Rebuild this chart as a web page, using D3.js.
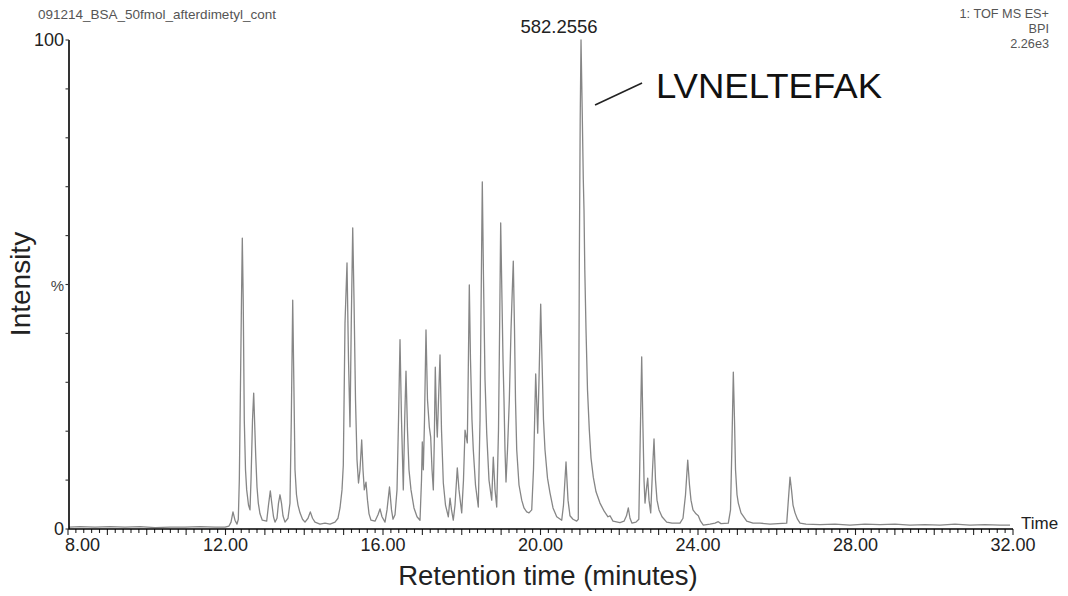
<!DOCTYPE html>
<html>
<head>
<meta charset="utf-8">
<script src="https://cdn.jsdelivr.net/npm/d3@7"></script>
<style>
  html, body { margin: 0; padding: 0; background: #fff; }
  svg { display: block; font-family: "Liberation Sans", Arial, sans-serif; }
</style>
</head>
<body>
<svg id="chart" width="1068" height="596"></svg>
<script>
// ---- Data: [retention time (min), relative intensity (%)] ----
const chromatogram = [
  [8.025,0.4],[8.305,0.5],[8.686,0.4],[9.067,0.5],[9.448,0.4],[9.829,0.5],[10.210,0.3],
  [10.590,0.4],[10.971,0.4],[11.352,0.5],[11.733,0.4],[11.987,0.4],[12.089,0.6],[12.140,1.4],
  [12.190,3.5],[12.241,1.8],[12.292,1.0],[12.325,2.0],[12.351,10.0],[12.376,26.4],[12.406,46.8],
  [12.427,59.5],[12.450,46.8],[12.477,22.3],[12.508,12.1],[12.538,8.0],[12.584,4.9],[12.622,3.9],
  [12.648,10.0],[12.686,22.3],[12.716,27.8],[12.742,21.3],[12.767,15.1],[12.800,8.6],[12.833,5.3],
  [12.876,3.1],[12.935,1.8],[13.046,1.6],[13.092,4.9],[13.138,7.8],[13.181,4.9],[13.219,2.5],
  [13.257,1.4],[13.308,2.2],[13.346,5.3],[13.384,7.0],[13.422,5.3],[13.460,2.7],[13.511,1.4],
  [13.587,2.2],[13.638,5.3],[13.671,22.3],[13.707,46.8],[13.735,30.5],[13.765,12.1],[13.803,7.0],
  [13.841,4.9],[13.892,3.3],[13.956,2.0],[14.019,1.4],[14.095,2.2],[14.154,3.5],[14.210,2.2],
  [14.273,1.4],[14.400,1.0],[14.527,1.2],[14.654,1.0],[14.781,1.4],[14.857,2.2],[14.908,4.3],
  [14.959,8.0],[14.992,13.1],[15.035,42.1],[15.086,54.4],[15.124,34.6],[15.162,20.9],[15.195,42.7],
  [15.231,61.6],[15.264,46.8],[15.302,26.4],[15.340,14.1],[15.378,9.4],[15.416,12.1],[15.459,18.2],
  [15.492,12.1],[15.525,8.0],[15.568,9.6],[15.606,5.9],[15.645,3.1],[15.695,1.8],[15.797,1.6],
  [15.873,2.9],[15.924,4.1],[15.975,2.5],[16.051,1.4],[16.102,3.9],[16.165,8.6],[16.216,3.9],
  [16.254,2.0],[16.305,2.9],[16.356,8.0],[16.394,22.3],[16.432,38.7],[16.470,22.3],[16.516,8.0],
  [16.551,22.3],[16.584,32.3],[16.622,20.2],[16.660,12.1],[16.711,8.0],[16.787,4.3],[16.864,2.5],
  [16.940,1.8],[16.978,10.0],[16.998,17.8],[17.024,12.1],[17.054,22.3],[17.092,40.7],[17.130,26.4],
  [17.176,20.9],[17.211,18.8],[17.245,12.1],[17.278,8.0],[17.303,18.2],[17.328,33.1],[17.359,22.3],
  [17.379,18.8],[17.410,26.4],[17.448,35.6],[17.486,20.2],[17.532,9.4],[17.587,4.9],[17.659,2.5],
  [17.702,6.3],[17.740,3.9],[17.785,1.8],[17.829,4.9],[17.887,12.5],[17.930,8.0],[17.999,3.3],
  [18.044,10.0],[18.083,20.2],[18.141,17.6],[18.166,32.5],[18.192,49.9],[18.222,34.6],[18.260,22.3],
  [18.293,16.2],[18.349,9.0],[18.420,4.5],[18.464,22.3],[18.497,50.9],[18.522,71.0],[18.553,50.9],
  [18.591,30.5],[18.634,19.6],[18.692,10.0],[18.761,5.9],[18.801,14.7],[18.845,8.0],[18.888,4.5],
  [18.933,20.2],[18.964,42.7],[18.989,62.6],[19.022,46.8],[19.048,34.6],[19.073,26.4],[19.098,16.2],
  [19.124,9.6],[19.162,16.2],[19.208,26.4],[19.251,40.7],[19.284,48.9],[19.309,54.8],[19.340,40.7],
  [19.365,26.4],[19.396,16.2],[19.454,9.0],[19.523,5.9],[19.581,4.3],[19.650,3.5],[19.708,3.3],
  [19.777,3.9],[19.822,12.1],[19.878,31.7],[19.911,24.3],[19.929,19.6],[19.962,30.5],[20.005,46.0],
  [20.038,34.6],[20.076,22.3],[20.114,16.2],[20.178,10.4],[20.241,7.4],[20.318,4.3],[20.412,2.5],
  [20.539,1.8],[20.584,4.9],[20.648,13.7],[20.699,5.9],[20.749,2.7],[20.825,2.0],[20.919,1.6],
  [20.960,2.0],[20.986,54.4],[21.008,83.6],[21.029,100.0],[21.059,85.7],[21.087,71.4],[21.105,65.2],
  [21.125,53.0],[21.156,40.7],[21.194,28.4],[21.240,20.2],[21.283,14.5],[21.341,10.6],[21.410,7.6],
  [21.511,5.3],[21.613,3.7],[21.714,2.5],[21.765,2.7],[21.841,1.6],[22.019,1.3],[22.121,1.6],
  [22.184,2.7],[22.230,4.3],[22.273,2.2],[22.324,1.2],[22.425,1.4],[22.497,2.0],[22.532,18.2],
  [22.570,35.2],[22.598,22.3],[22.629,10.0],[22.654,5.3],[22.687,8.0],[22.723,10.4],[22.756,5.9],
  [22.799,3.3],[22.845,12.1],[22.883,18.4],[22.921,10.0],[22.959,5.9],[23.010,3.9],[23.086,2.5],
  [23.205,1.4],[23.340,1.2],[23.543,1.2],[23.619,2.2],[23.683,7.0],[23.739,14.1],[23.784,9.0],
  [23.822,5.9],[23.873,3.9],[23.949,3.1],[24.008,2.7],[24.064,1.6],[24.135,0.8],[24.305,1.0],
  [24.432,1.2],[24.515,1.5],[24.584,1.1],[24.770,1.2],[24.826,3.9],[24.859,16.2],[24.897,32.1],
  [24.927,22.3],[24.953,12.1],[24.991,7.0],[25.024,5.3],[25.092,3.3],[25.237,1.6],[25.397,1.2],
  [25.575,1.2],[25.829,1.0],[26.032,1.1],[26.253,1.2],[26.286,4.9],[26.337,10.6],[26.375,8.0],
  [26.413,4.9],[26.464,3.3],[26.527,2.0],[26.591,1.2],[26.743,1.0],[27.099,0.9],[27.480,1.0],
  [27.860,0.8],[28.241,1.0],[28.622,0.9],[29.003,1.0],[29.384,0.8],[29.765,0.9],[30.146,0.8],
  [30.527,1.0],[30.908,0.8],[31.289,0.9],[31.670,0.8],[31.924,0.8]
];
const xTickValues = [8, 12, 16, 20, 24, 28, 32];
const xTickLabels = ["8.00", "12.00", "16.00", "20.00", "24.00", "28.00", "32.00"];
const yTickLabels = ["0", "%", "100"];
const yTickLabelValues = [0, 50, 100];
const titleLeft = "091214_BSA_50fmol_afterdimetyl_cont";
const titleRight = ["1: TOF MS ES+", "BPI", "2.26e3"];
const peakMass = "582.2556";
const peptide = "LVNELTEFAK";
const peakTime = 21.03;

// ---- Layout ----
const svg = d3.select("#chart");
const x0 = 68, x1 = 1013, yTop = 40, yBot = 529;
const x = d3.scaleLinear().domain([8, 32]).range([x0, x1]);
const y = d3.scaleLinear().domain([0, 100]).range([yBot, yTop]);

// trace
svg.append("path")
  .datum(chromatogram)
  .attr("fill", "none")
  .attr("stroke", "#868686")
  .attr("stroke-width", 1.3)
  .attr("stroke-linejoin", "round")
  .attr("d", d3.line().x(d => x(d[0])).y(d => y(d[1])));

// x axis: minor ticks every 0.2 min, longer every 1 min
const minor = d3.range(0, 121).map(i => 8 + i * 0.2);
const gx = svg.append("g").attr("transform", `translate(0,${yBot})`);
gx.selectAll("line.tk").data(minor).enter().append("line").attr("class", "tk")
  .attr("x1", d => x(d)).attr("x2", d => x(d))
  .attr("y1", 0)
  .attr("y2", d => (Math.abs(d - Math.round(d)) < 1e-6) ? 6 : 4)
  .attr("stroke", "#222").attr("stroke-width", 1.1);
gx.append("line").attr("x1", x0).attr("x2", x1).attr("y1", 0).attr("y2", 0)
  .attr("stroke", "#000").attr("stroke-width", 1.6);
gx.selectAll("text").data(xTickValues).enter().append("text")
  .attr("x", (d, i) => i === 0 ? x(d) - 3 : x(d))
  .attr("y", 22)
  .attr("text-anchor", (d, i) => i === 0 ? "start" : "middle")
  .attr("font-size", 18).attr("fill", "#222")
  .text((d, i) => xTickLabels[i]);

// y axis
const gy = svg.append("g").attr("transform", `translate(${x0 + 1},0)`);
gy.append("line").attr("x1", 0).attr("x2", 0).attr("y1", yTop).attr("y2", yBot)
  .attr("stroke", "#000").attr("stroke-width", 1.6);
gy.selectAll("line.tk").data(d3.range(0, 101, 10)).enter().append("line").attr("class", "tk")
  .attr("x1", 0).attr("x2", -3.5).attr("y1", d => y(d)).attr("y2", d => y(d))
  .attr("stroke", "#333").attr("stroke-width", 1.1);
gy.selectAll("text").data(yTickLabelValues).enter().append("text")
  .attr("x", -5)
  .attr("y", d => y(d) + 6)
  .attr("text-anchor", "end")
  .attr("font-size", (d, i) => i === 1 ? 15 : 18)
  .attr("fill", (d, i) => i === 1 ? "#444" : "#222")
  .text((d, i) => yTickLabels[i]);

// axis titles
svg.append("text").attr("x", 548).attr("y", 585).attr("text-anchor", "middle")
  .attr("font-size", 27.5).attr("fill", "#222").text("Retention time (minutes)");
svg.append("text").attr("transform", "translate(30,284) rotate(-90)")
  .attr("text-anchor", "middle").attr("font-size", 28).attr("fill", "#222").text("Intensity");
svg.append("text").attr("x", 1021).attr("y", 529).attr("font-size", 17)
  .attr("fill", "#222").text("Time");

// header texts
svg.append("text").attr("x", 38).attr("y", 19).attr("font-size", 13.5)
  .attr("fill", "#555").text(titleLeft);
titleRight.forEach((s, i) => {
  svg.append("text").attr("x", 1049).attr("y", 18 + i * 15).attr("text-anchor", "end")
    .attr("font-size", 12.7).attr("fill", "#555").text(s);
});

// peak annotation
svg.append("text").attr("x", x(peakTime) - 22).attr("y", 33).attr("text-anchor", "middle")
  .attr("font-size", 18.5).attr("fill", "#222").text(peakMass);
svg.append("line").attr("x1", x(peakTime) + 14).attr("y1", 105)
  .attr("x2", x(peakTime) + 61).attr("y2", 83)
  .attr("stroke", "#222").attr("stroke-width", 1.6);
svg.append("text").attr("x", 656).attr("y", 98).attr("font-size", 35.5)
  .attr("textLength", 226).attr("lengthAdjust", "spacingAndGlyphs")
  .attr("fill", "#111").text(peptide);
</script>
</body>
</html>
